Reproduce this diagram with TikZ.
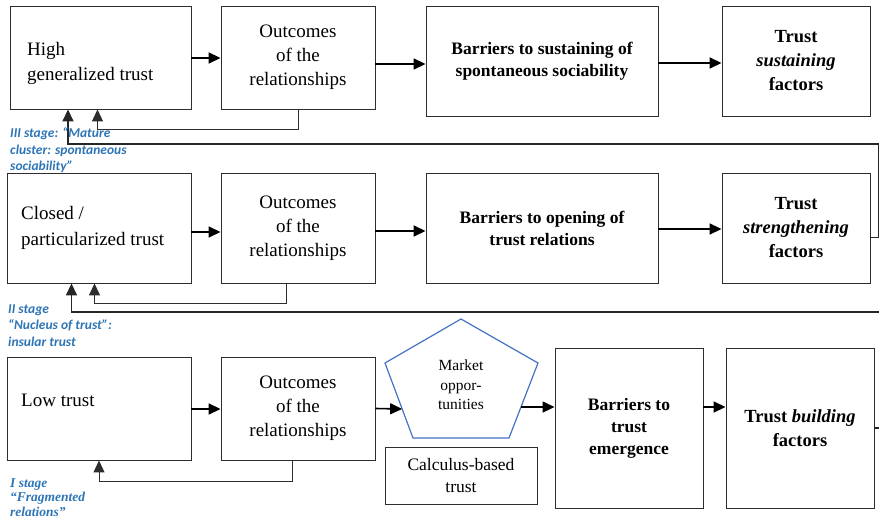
\documentclass[tikz,border=0pt]{standalone}
\usepackage{fontspec}
\setmainfont{Liberation Serif}
\newfontfamily\stagesans{Carlito}
\usetikzlibrary{arrows.meta,calc}
\definecolor{stageblue}{RGB}{46,117,182}
\definecolor{pentblue}{RGB}{68,114,196}
\definecolor{boxline}{RGB}{45,45,45}

\begin{document}
\begin{tikzpicture}[x=1pt,y=-1pt,
  box/.style={draw=boxline, line width=0.9pt, inner sep=0pt, align=center, text=black},
  plain/.style={box, font=\fontsize{19}{24}\selectfont},
  barrier/.style={box, font=\bfseries\fontsize{17.5}{22}\selectfont},
  factor/.style={box, font=\bfseries\fontsize{18.5}{24}\selectfont},
  lefttext/.style={anchor=base west, inner sep=0pt, align=left, font=\fontsize{19}{25}\selectfont},
  tip/.style={-{Triangle[length=12pt,width=11pt]}},
  arr/.style={draw=black, line width=1.6pt, tip},
  loop/.style={draw=boxline, line width=1pt, tip},
  outer/.style={draw=black!85, line width=1.6pt, tip},
  stagesf/.style={anchor=west, inner sep=0pt, align=left, text=stageblue,
    font=\stagesans\bfseries\itshape\fontsize{13.5}{16.5}\selectfont},
  stageserif/.style={anchor=west, inner sep=0pt, align=left, text=stageblue,
    font=\bfseries\itshape\fontsize{13.5}{14.5}\selectfont}
]
\useasboundingbox (0,0) rectangle (879,524);
\clip (0,0) rectangle (879,524);

% ---------- stage III ----------
\node[box, minimum width=181, minimum height=103] (a1) at (100.5,57.5) {};
\node[lefttext] (a1t) at (27,81) {High\\generalized trust};
\node[plain, minimum width=154, minimum height=103] (b1) at (298,57.5) {Outcomes\\of the\\relationships};
\node[barrier, minimum width=232, minimum height=110] (c1) at (542,61) {Barriers to sustaining of\\spontaneous sociability};
\node[factor, minimum width=148, minimum height=110] (d1) at (796,61) {Trust\\\textit{sustaining}\\factors};

% ---------- stage II ----------
\node[box, minimum width=184, minimum height=110] (a2) at (99,228) {};
\node[lefttext] (a2t) at (21,245) {Closed /\\particularized trust};
\node[plain, minimum width=154, minimum height=110] (b2) at (298,228) {Outcomes\\of the\\relationships};
\node[barrier, minimum width=232, minimum height=110] (c2) at (542,228) {Barriers to opening of\\trust relations};
\node[factor, minimum width=148, minimum height=110] (d2) at (796,228) {Trust\\\textit{strengthening}\\factors};

% ---------- stage I ----------
\node[box, minimum width=184, minimum height=103] (a3) at (99,408.5) {};
\node[lefttext] (a3t) at (21,406) {Low trust};
\node[plain, minimum width=154, minimum height=103] (b3) at (298,408.5) {Outcomes\\of the\\relationships};
\node[box, font=\fontsize{17.5}{22}\selectfont, minimum width=152, minimum height=57] (calc) at (461,475.5) {Calculus-based\\trust};
\node[barrier, minimum width=148, minimum height=160] (c3) at (629,428) {Barriers to\\trust\\emergence};
\node[factor, minimum width=148, minimum height=160] (d3) at (800,428) {Trust \textit{building}\\factors};

% market opportunities pentagon
\coordinate (p1) at (461,319);
\coordinate (p2) at (538,363);
\coordinate (p3) at (509,438);
\coordinate (p4) at (413,438);
\coordinate (p5) at (385,363);
\draw[pentblue, line width=1.2pt, line join=miter] (p1) -- (p2) -- (p3) -- (p4) -- (p5) -- cycle;
\node[inner sep=0pt, align=center, font=\fontsize{15.5}{19.5}\selectfont] (mk) at (461,385) {Market\\oppor-\\tunities};
\coordinate (pl) at ($(p5)!0.613!(p4)$);
\coordinate (pr) at ($(p2)!0.587!(p3)$);

% ---------- forward arrows ----------
\draw[arr] ([yshift=-0.5]a1.east) -- ([yshift=-0.5]b1.west);
\draw[arr] ([yshift=-6.5]b1.east) -- ([yshift=-3]c1.west);
\draw[arr] ([yshift=-2]c1.east) -- ([yshift=-2]d1.west);

\draw[arr] ([yshift=-4]a2.east) -- ([yshift=-4]b2.west);
\draw[arr] ([yshift=-3]b2.east) -- ([yshift=-3]c2.west);
\draw[arr] ([yshift=-1]c2.east) -- ([yshift=-1]d2.west);

\draw[arr] ([yshift=-0.5]a3.east) -- ([yshift=-0.5]b3.west);
\draw[arr] (b3.east) -- (pl);
\draw[arr] (pr) -- (c3.west |- pr);
\draw[arr] ([yshift=21]c3.east) -- ([yshift=21]d3.west);

% ---------- feedback loops within a stage ----------
\draw[loop] (b1.south) -- ++(0,20) -| ([xshift=-3]a1.south);
\draw[loop] ([xshift=-12]b2.south) -- ++(0,20) -| ([xshift=-4.5]a2.south);
\draw[loop] ([xshift=-6]b3.south) -- ++(0,21) -| (a3.south);

% ---------- transitions between stages ----------
\coordinate (r1) at (878.5,144);
\draw[outer] ([yshift=-9.5]d2.east) -| (r1) -| ([xshift=-32.5]a1.south);
\coordinate (r2) at (895,312);
\draw[outer] (d3.east) -| (r2) -| ([xshift=-27.5]a2.south);

% ---------- stage labels ----------
\node[stagesf] (s3) at (10,150.5) {III stage: “Mature\\cluster: spontaneous\\sociability”};
\node[stagesf] (s2) at (8,325.5) {II stage\\“Nucleus of trust”:\\insular trust};
\node[stageserif] (s1) at (10,497.5) {I stage\\“Fragmented\\relations”};
\end{tikzpicture}
\end{document}
